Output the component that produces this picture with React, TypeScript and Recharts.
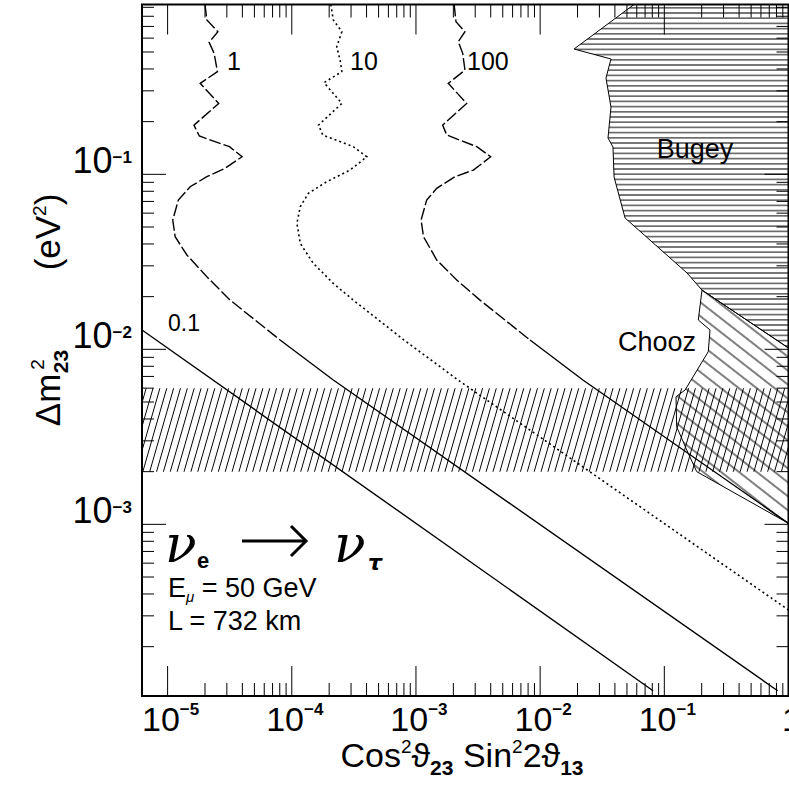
import { ComposedChart, Line, Scatter, XAxis, YAxis, ReferenceArea } from 'recharts';

const W = 789;
const H = 787;
const PLOT_LEFT = 142;
const PLOT_RIGHT = 788.5;
const PLOT_TOP = 4.5;
const PLOT_BOTTOM = 696;
const FONT = "'Liberation Sans', Arial, sans-serif";

const X_MIN = 6.22e-6;
const X_MAX = 1;
const Y_MIN = 1.045e-4;
const Y_MAX = 0.934;

// axis ticks
const X_MAJOR = [1e-5, 1e-4, 1e-3, 1e-2, 1e-1, 1];
const X_LABEL_BASE = ['10', '10', '10', '10', '10', '1'];
const X_LABEL_EXP = ['\u22125', '\u22124', '\u22123', '\u22122', '\u22121', ''];
const Y_MAJOR = [1e-3, 1e-2, 1e-1];
const Y_LABEL_EXP = ['\u22123', '\u22122', '\u22121'];
const MULTS = [2, 3, 4, 5, 6, 7, 8, 9];
const X_MINOR = [1e-5, 1e-4, 1e-3, 1e-2, 1e-1].flatMap((d) => MULTS.map((m) => m * d));
const Y_MINOR = [1e-4, 1e-3, 1e-2, 1e-1].flatMap((d) => MULTS.map((m) => m * d));
const X_TICKS = [...X_MAJOR, ...X_MINOR].sort((a, b) => a - b);
const Y_TICKS = [...Y_MAJOR, ...Y_MINOR].sort((a, b) => a - b);

// atmospheric band (Delta m^2 range)
const BAND_LOW = 0.002;
const BAND_HIGH = 0.006;

// contour 0.1 (solid)
const contour01 = [
  { x: 6.22e-6, y: 0.0129 },
  { x: 0.0811, y: 1.12e-4 },
];

// contour 1 (dashed curve + solid tail)
const contour1Curve = [
  { x: 2.0e-5, y: 0.934 },
  { x: 2.07e-5, y: 0.762 },
  { x: 2.54e-5, y: 0.653 },
  { x: 2.16e-5, y: 0.568 },
  { x: 2.37e-5, y: 0.491 },
  { x: 2.52e-5, y: 0.386 },
  { x: 1.83e-5, y: 0.331 },
  { x: 2.58e-5, y: 0.254 },
  { x: 1.63e-5, y: 0.191 },
  { x: 1.8e-5, y: 0.1655 },
  { x: 3.15e-5, y: 0.1438 },
  { x: 3.98e-5, y: 0.126 },
  { x: 2.9e-5, y: 0.1082 },
  { x: 2.07e-5, y: 0.0969 },
  { x: 1.52e-5, y: 0.0849 },
  { x: 1.22e-5, y: 0.0713 },
  { x: 1.1e-5, y: 0.0548 },
  { x: 1.15e-5, y: 0.044 },
  { x: 1.43e-5, y: 0.0346 },
  { x: 2.07e-5, y: 0.026 },
  { x: 3.19e-5, y: 0.0191 },
  { x: 8.05e-5, y: 0.0113 },
];
const contour1Tail = [
  { x: 8.05e-5, y: 0.0113 },
  { x: 2.16e-4, y: 6.68e-3 },
  { x: 0.818, y: 1.12e-4 },
];

// contour 10 (dotted)
const contour10 = [
  { x: 2.06e-4, y: 0.934 },
  { x: 2.16e-4, y: 0.762 },
  { x: 2.53e-4, y: 0.653 },
  { x: 2.3e-4, y: 0.536 },
  { x: 2.45e-4, y: 0.45 },
  { x: 2.53e-4, y: 0.386 },
  { x: 1.82e-4, y: 0.334 },
  { x: 2.53e-4, y: 0.254 },
  { x: 1.64e-4, y: 0.191 },
  { x: 1.78e-4, y: 0.1677 },
  { x: 3.13e-4, y: 0.1438 },
  { x: 4.02e-4, y: 0.126 },
  { x: 2.95e-4, y: 0.1058 },
  { x: 1.91e-4, y: 0.0907 },
  { x: 1.36e-4, y: 0.0779 },
  { x: 1.17e-4, y: 0.0653 },
  { x: 1.1e-4, y: 0.0525 },
  { x: 1.17e-4, y: 0.0403 },
  { x: 1.49e-4, y: 0.031 },
  { x: 2.16e-4, y: 0.0238 },
  { x: 3.13e-4, y: 0.0191 },
  { x: 8.02e-4, y: 0.0113 },
  { x: 2.18e-3, y: 6.68e-3 },
  { x: 1, y: 3.24e-4 },
];

// contour 100 (dashed curve + solid tail)
const contour100Curve = [
  { x: 2.03e-3, y: 0.934 },
  { x: 2.1e-3, y: 0.745 },
  { x: 2.48e-3, y: 0.653 },
  { x: 2.19e-3, y: 0.573 },
  { x: 2.38e-3, y: 0.491 },
  { x: 2.48e-3, y: 0.394 },
  { x: 1.82e-3, y: 0.331 },
  { x: 2.56e-3, y: 0.254 },
  { x: 1.64e-3, y: 0.191 },
  { x: 1.77e-3, y: 0.1677 },
  { x: 3.09e-3, y: 0.1438 },
  { x: 4.0e-3, y: 0.126 },
  { x: 2.9e-3, y: 0.1058 },
  { x: 2.06e-3, y: 0.0969 },
  { x: 1.47e-3, y: 0.0832 },
  { x: 1.22e-3, y: 0.0713 },
  { x: 1.1e-3, y: 0.0548 },
  { x: 1.15e-3, y: 0.044 },
  { x: 1.47e-3, y: 0.0324 },
  { x: 2.13e-3, y: 0.0249 },
  { x: 3.28e-3, y: 0.0191 },
  { x: 8.29e-3, y: 0.0113 },
];
const contour100Tail = [
  { x: 8.29e-3, y: 0.0113 },
  { x: 0.0221, y: 6.68e-3 },
  { x: 1, y: 1.013e-3 },
];

// excluded regions (polygon vertices)
const bugeyEdge = [
  { x: 0.057, y: 0.934 },
  { x: 0.01875, y: 0.52 },
  { x: 0.0372, y: 0.456 },
  { x: 0.0339, y: 0.355 },
  { x: 0.0372, y: 0.2424 },
  { x: 0.0352, y: 0.1612 },
  { x: 0.0386, y: 0.1432 },
  { x: 0.0394, y: 0.0965 },
  { x: 0.0483, y: 0.0563 },
  { x: 0.1523, y: 0.0273 },
  { x: 0.2011, y: 0.0218 },
  { x: 1, y: 0.01017 },
  { x: 1, y: 0.934 },
];
const choozEdge = [
  { x: 0.2011, y: 0.0218 },
  { x: 0.1878, y: 0.01471 },
  { x: 0.2333, y: 0.0129 },
  { x: 0.226, y: 0.0097 },
  { x: 0.1468, y: 5.85e-3 },
  { x: 0.1242, y: 5.36e-3 },
  { x: 0.1258, y: 3.61e-3 },
  { x: 0.1515, y: 2.66e-3 },
  { x: 0.1823, y: 2.0e-3 },
  { x: 1, y: 1.013e-3 },
  { x: 1, y: 0.01017 },
];

const majorIndex = (list: number[], v: number) => list.findIndex((m) => Math.abs(v - m) / m < 1e-9);

function XTick(props: any) {
  const { x, payload } = props;
  const idx = majorIndex(X_MAJOR, payload?.value);
  const len = idx >= 0 ? 30 : 13;
  return (
    <g>
      <line x1={x} x2={x} y1={PLOT_BOTTOM} y2={PLOT_BOTTOM - len} stroke="#000" />
      <line x1={x} x2={x} y1={PLOT_TOP} y2={PLOT_TOP + len} stroke="#000" />
      {idx >= 0 && (
        <text x={x + 3} y={PLOT_BOTTOM + 35} textAnchor="middle" fontSize={34} fontFamily={FONT} fill="#000">
          {X_LABEL_BASE[idx]}
          {X_LABEL_EXP[idx] && (
            <tspan fontSize={17} fontWeight="bold" dy={-16}>{X_LABEL_EXP[idx]}</tspan>
          )}
        </text>
      )}
    </g>
  );
}

function YTick(props: any) {
  const { y, payload } = props;
  const idx = majorIndex(Y_MAJOR, payload?.value);
  const len = idx >= 0 ? 24 : 12;
  return (
    <g>
      <line x1={PLOT_LEFT} x2={PLOT_LEFT + len} y1={y} y2={y} stroke="#000" />
      <line x1={PLOT_RIGHT} x2={PLOT_RIGHT - len} y1={y} y2={y} stroke="#000" />
      {idx >= 0 && (
        <text x={PLOT_LEFT - 10} y={y - 1} textAnchor="end" fontSize={36} fontFamily={FONT} fill="#000">
          10
          <tspan fontSize={17} fontWeight="bold" dy={-10}>{Y_LABEL_EXP[idx]}</tspan>
        </text>
      )}
    </g>
  );
}

const hatchPolygon = (fillId: string) => (props: any) => {
  const pts = props.points as { x: number; y: number }[];
  if (!pts || !pts.length) return <g />;
  const d = pts.map((p, i) => `${i ? 'L' : 'M'}${p.x},${p.y}`).join(' ') + ' Z';
  return <path d={d} fill={`url(#${fillId})`} stroke="#000" strokeWidth={1} />;
};

export default function App() {
  return (
    <div style={{ position: 'absolute', left: 0, top: 0, width: W, height: H, background: '#fff' }}>
      <ComposedChart width={W} height={H} margin={{ top: PLOT_TOP, right: W - PLOT_RIGHT, bottom: 0, left: 0 }}>
        <defs>
          <pattern id="bandHatch" patternUnits="userSpaceOnUse" width={6.6} height={20} patternTransform="rotate(16)">
            <line x1={3.3} y1={0} x2={3.3} y2={20} stroke="#000" strokeWidth={1} />
          </pattern>
          <pattern id="bugeyHatch" patternUnits="userSpaceOnUse" width={20} height={5.2}>
            <line x1={0} y1={2.6} x2={20} y2={2.6} stroke="#000" strokeWidth={1} />
          </pattern>
          <pattern id="choozHatch" patternUnits="userSpaceOnUse" width={20} height={11} patternTransform="rotate(38)">
            <line x1={0} y1={5} x2={20} y2={5} stroke="#000" strokeWidth={1} />
          </pattern>
        </defs>
        <XAxis
          dataKey="x"
          type="number"
          scale="log"
          domain={[X_MIN, X_MAX]}
          allowDataOverflow
          ticks={X_TICKS}
          interval={0}
          tick={<XTick />}
          tickLine={false}
          tickSize={0}
          tickMargin={0}
          axisLine={false}
          height={H - PLOT_BOTTOM}
        />
        <YAxis
          dataKey="y"
          type="number"
          scale="log"
          domain={[Y_MIN, Y_MAX]}
          allowDataOverflow
          ticks={Y_TICKS}
          interval={0}
          tick={<YTick />}
          tickLine={false}
          tickSize={0}
          tickMargin={0}
          axisLine={false}
          width={PLOT_LEFT}
        />
        <ReferenceArea
          x1={X_MIN}
          x2={X_MAX}
          y1={BAND_LOW}
          y2={BAND_HIGH}
          fill="url(#bandHatch)"
          fillOpacity={1}
          stroke="none"
        />
        <Scatter data={choozEdge} dataKey="y" shape={() => <g />} line={hatchPolygon('choozHatch')} isAnimationActive={false} />
        <Scatter data={bugeyEdge} dataKey="y" shape={() => <g />} line={hatchPolygon('bugeyHatch')} isAnimationActive={false} />
        <Line data={contour01} dataKey="y" type="linear" stroke="#000" strokeWidth={1.4} dot={false} isAnimationActive={false} />
        <Line data={contour1Curve} dataKey="y" type="linear" stroke="#000" strokeWidth={1.4} strokeDasharray="12 3" dot={false} isAnimationActive={false} />
        <Line data={contour1Tail} dataKey="y" type="linear" stroke="#000" strokeWidth={1.4} dot={false} isAnimationActive={false} />
        <Line data={contour10} dataKey="y" type="linear" stroke="#000" strokeWidth={1.6} strokeDasharray="2 3" dot={false} isAnimationActive={false} />
        <Line data={contour100Curve} dataKey="y" type="linear" stroke="#000" strokeWidth={1.4} strokeDasharray="12 3" dot={false} isAnimationActive={false} />
        <Line data={contour100Tail} dataKey="y" type="linear" stroke="#000" strokeWidth={1.4} dot={false} isAnimationActive={false} />
        <ReferenceArea x1={X_MIN} x2={X_MAX} y1={Y_MIN} y2={Y_MAX} fill="none" stroke="#000" strokeWidth={2} />
      </ComposedChart>
      <svg
        width={W}
        height={H}
        style={{ position: 'absolute', left: 0, top: 0, pointerEvents: 'none' }}
        fontFamily={FONT}
      >
        <text x={227} y={70} fontSize={25}>1</text>
        <text x={350} y={70} fontSize={25}>10</text>
        <text x={467} y={70} fontSize={25}>100</text>
        <text x={168} y={331} fontSize={23}>0.1</text>
        <text x={695} y={158} fontSize={27} textAnchor="middle">Bugey</text>
        <text x={657} y={351} fontSize={27} textAnchor="middle">Chooz</text>

        <text x={165} y={562} fontSize={52} fontStyle="italic" fontFamily="'DejaVu Serif', serif">ν</text>
        <text x={197} y={568} fontSize={22} fontWeight="bold">e</text>
        <line x1={242} y1={541} x2={304} y2={541} stroke="#000" strokeWidth={3} />
        <path d="M291,526 L306,541 L291,556" fill="none" stroke="#000" strokeWidth={3} />
        <text x={334} y={562} fontSize={52} fontStyle="italic" fontFamily="'DejaVu Serif', serif">ν</text>
        <text x={368} y={570} fontSize={22} fontWeight="bold" fontStyle="italic" fontFamily="'DejaVu Sans', sans-serif">τ</text>

        <text x={168} y={597} fontSize={27}>
          E<tspan fontSize={15} fontStyle="italic" dy={5}>μ</tspan>
          <tspan dy={-5}> = 50 GeV</tspan>
        </text>
        <text x={168} y={630} fontSize={27}>L = 732 km</text>

        <text x={462} y={767} textAnchor="middle" fontSize={34}>
          Cos<tspan fontSize={19} dy={-14}>2</tspan>
          <tspan dy={14}>ϑ</tspan>
          <tspan fontSize={21} fontWeight="bold" dy={8}>23</tspan>
          <tspan dy={-8}> Sin</tspan>
          <tspan fontSize={19} dy={-14}>2</tspan>
          <tspan dy={14}>2ϑ</tspan>
          <tspan fontSize={21} fontWeight="bold" dy={8}>13</tspan>
        </text>

        <text transform="translate(60,232) rotate(-90)" textAnchor="middle" fontSize={35}>
          (eV<tspan fontSize={19} dy={-14}>2</tspan>
          <tspan dy={14}>)</tspan>
        </text>
        <text transform="translate(60,388) rotate(-90)" textAnchor="middle" fontSize={35}>
          Δm<tspan fontSize={19} dy={-16} dx={4}>2</tspan>
          <tspan fontSize={21} fontWeight="bold" dy={24} dx={-14}>23</tspan>
        </text>
      </svg>
    </div>
  );
}
